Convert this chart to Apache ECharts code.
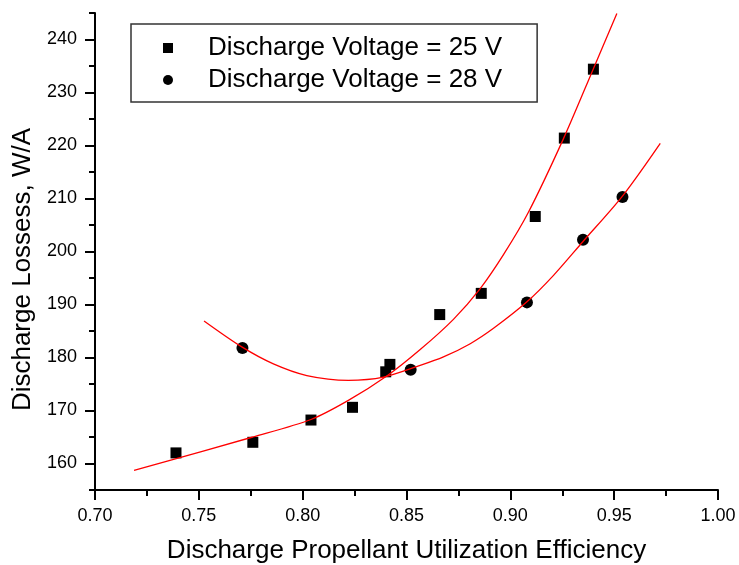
<!DOCTYPE html>
<html>
<head>
<meta charset="UTF-8">
<title>Discharge Losses</title>
<script src="https://cdn.jsdelivr.net/npm/echarts@6/dist/echarts.min.js"></script>
<style>
  html, body { margin: 0; padding: 0; background: #fff; }
  #chart { width: 739px; height: 565px; }
</style>
</head>
<body>
<div id="chart"></div>
<script>
// measured points, 25 V
var x25 = [0.739, 0.776, 0.804, 0.824, 0.840, 0.842, 0.866, 0.886, 0.912, 0.926, 0.940];
var y25 = [162.0, 164.0, 168.2, 170.6, 177.3, 178.7, 188.1, 192.1, 206.6, 221.4, 234.4];
// measured points, 28 V
var x28 = [0.771, 0.852, 0.908, 0.935, 0.954];
var y28 = [181.8, 177.7, 190.4, 202.2, 210.3];
// fitted curves
var fit25X = [0.7188, 0.776, 0.804, 0.822, 0.8405, 0.8566, 0.8726, 0.8855, 0.8967, 0.9087, 0.9256, 0.9400, 0.9513];
var fit25Y = [158.7, 165.0, 168.3, 171.9, 176.5, 181.5, 187.2, 193.0, 199.4, 207.4, 221.3, 234.5, 244.9];
var fit28X = [0.7525, 0.7707, 0.7859, 0.802, 0.822, 0.8389, 0.8566, 0.8678, 0.8807, 0.8919, 0.908, 0.9208, 0.9348, 0.9539, 0.9722];
var fit28Y = [186.9, 182.0, 178.8, 176.6, 175.7, 176.3, 178.5, 180.1, 182.6, 185.5, 190.5, 195.5, 201.8, 210.4, 220.4];
// y tick labels
var yMajor = [160, 170, 180, 190, 200, 210, 220, 230, 240];

var names = ['Discharge Voltage = 25 V', 'Discharge Voltage = 28 V'];

function zip(xs, ys) {
  var out = [];
  for (var i = 0; i < xs.length; i++) out.push([xs[i], ys[i]]);
  return out;
}

var font = 'Liberation Sans, Arial, sans-serif';
var chart = echarts.init(document.getElementById('chart'));

var option = {
  animation: false,
  grid: { left: 95, right: 21, top: 13, bottom: 75, containLabel: false, outerBoundsMode: 'none' },
  legend: {
    left: 131, top: 24,
    orient: 'vertical',
    selectedMode: false,
    backgroundColor: '#fff',
    borderColor: '#333',
    borderWidth: 1.5,
    padding: [9, 35, 7, 32],
    itemGap: 2,
    itemWidth: 10,
    itemHeight: 10,
    textStyle: { fontFamily: font, fontSize: 26, color: '#000', lineHeight: 30, padding: [0, 0, 0, 30] },
    data: [
      { name: names[0], icon: 'rect', itemStyle: { color: '#000', opacity: 1 } },
      { name: names[1], icon: 'circle', itemStyle: { color: '#000', opacity: 1 } }
    ]
  },
  xAxis: {
    type: 'value',
    min: 0.7, max: 1.0, interval: 0.05,
    name: 'Discharge Propellant Utilization Efficiency',
    nameLocation: 'middle',
    nameGap: 48,
    nameTextStyle: { fontFamily: font, fontSize: 26, color: '#000' },
    axisLine: { show: true, lineStyle: { color: '#000', width: 2 } },
    axisTick: { show: true, inside: false, length: 10, lineStyle: { color: '#000', width: 2 } },
    minorTick: { show: true, splitNumber: 2, length: 6, lineStyle: { color: '#000', width: 2 } },
    splitLine: { show: false },
    minorSplitLine: { show: false },
    axisLabel: {
      fontFamily: font, fontSize: 18, color: '#000', margin: 17,
      formatter: function (v) { return v.toFixed(2); }
    }
  },
  yAxis: [{
    type: 'value',
    min: 155, max: 245, interval: 5,
    name: 'Discharge Lossess, W/A',
    nameLocation: 'middle',
    nameGap: 58,
    nameTextStyle: { fontFamily: font, fontSize: 26, color: '#000', padding: [0, 36, 0, 0] },
    axisLine: { show: true, lineStyle: { color: '#000', width: 2 } },
    axisTick: { show: true, inside: false, length: 6, lineStyle: { color: '#000', width: 2 } },
    splitLine: { show: false },
    axisLabel: {
      fontFamily: font, fontSize: 18, color: '#000', margin: 18,
      customValues: yMajor
    }
  }, {
    type: 'value',
    min: 155, max: 245, interval: 5,
    position: 'left',
    axisLine: { show: false },
    axisTick: { show: true, inside: false, length: 10, customValues: yMajor, lineStyle: { color: '#000', width: 2 } },
    axisLabel: { show: false },
    splitLine: { show: false }
  }],
  series: [
    {
      name: names[0], type: 'scatter', symbol: 'rect', symbolSize: 11,
      itemStyle: { color: '#000', opacity: 1 }, data: zip(x25, y25), z: 2
    },
    {
      name: names[1], type: 'scatter', symbol: 'circle', symbolSize: 12,
      itemStyle: { color: '#000', opacity: 1 }, data: zip(x28, y28), z: 2
    },
    {
      name: 'fit25', type: 'line', smooth: 0.3, showSymbol: false, silent: true,
      lineStyle: { color: '#ff0000', width: 1.3 }, data: zip(fit25X, fit25Y), z: 3
    },
    {
      name: 'fit28', type: 'line', smooth: 0.3, showSymbol: false, silent: true,
      lineStyle: { color: '#ff0000', width: 1.3 }, data: zip(fit28X, fit28Y), z: 3
    }
  ]
};

chart.setOption(option);
</script>
</body>
</html>
